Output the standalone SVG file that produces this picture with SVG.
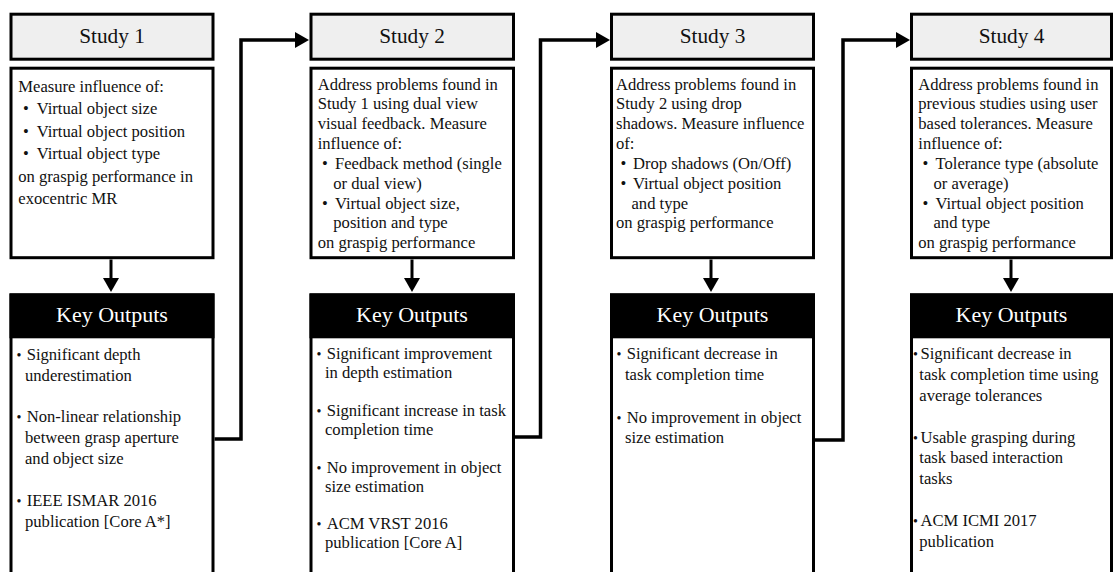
<svg xmlns="http://www.w3.org/2000/svg" width="1113" height="572" viewBox="0 0 1113 572">
  <style>
    text { font-family: "Liberation Serif", Tinos, "Nimbus Roman", "Nimbus Roman No9 L", FreeSerif, "Noto Serif", "DejaVu Serif", "Times New Roman", Times, serif; }
    .hdr { fill: #efefef; stroke: #000; stroke-width: 3; }
    .desc { fill: #fff; stroke: #000; stroke-width: 3; }
    .body { fill: #fff; stroke: #000; stroke-width: 3; }
    .band { fill: #000; }
    .title { font-size: 21.3px; text-anchor: middle; fill: #111; }
    .ko { font-size: 22px; text-anchor: middle; fill: #fff; }
    .t { font-size: 16.6px; fill: #111; }
    .b { font-size: 14px; fill: #111; }
    .link { fill: none; stroke: #000; stroke-width: 3.5; stroke-linejoin: miter; }
    .down { fill: none; stroke: #000; stroke-width: 3; }
  </style>
  <defs>
    <marker id="head" viewBox="0 0 14 16" markerUnits="userSpaceOnUse" markerWidth="14" markerHeight="16" refX="2" refY="8" orient="auto">
      <path d="M0,0 L14,8 L0,16 z" fill="#000"/>
    </marker>
  </defs>

  <!-- Study 1 -->
  <g id="study1">
    <rect class="hdr" x="11" y="14.2" width="202" height="45"/>
    <text class="title" x="112" y="42.5">Study 1</text>
    <rect class="desc" x="11" y="68.2" width="202" height="189.5"/>
    <text class="t" x="18.3" y="91.7">Measure influence of:</text>
    <text class="t" x="23" y="114">•</text><text class="t" x="36.7" y="114">Virtual object size</text>
    <text class="t" x="23" y="136.5">•</text><text class="t" x="36.7" y="136.5">Virtual object position</text>
    <text class="t" x="23" y="159">•</text><text class="t" x="36.7" y="159">Virtual object type</text>
    <text class="t" x="18.3" y="181.5">on graspig performance in</text>
    <text class="t" x="18.3" y="204">exocentric MR</text>
  </g>
  <g id="outputs1">
    <rect class="body" x="11" y="295" width="202" height="300"/>
    <rect class="band" x="9.5" y="293.3" width="205" height="45"/>
    <text class="ko" x="112" y="322">Key Outputs</text>
    <text class="b" x="16.5" y="360">•</text><text class="t" x="26.7" y="360">Significant depth</text>
    <text class="t" x="25" y="380.5">underestimation</text>
    <text class="b" x="16.5" y="421.7">•</text><text class="t" x="26.7" y="421.7">Non-linear relationship</text>
    <text class="t" x="25" y="442.5">between grasp aperture</text>
    <text class="t" x="25" y="463.5">and object size</text>
    <text class="b" x="16.5" y="505.5">•</text><text class="t" x="26.7" y="505.5">IEEE ISMAR 2016</text>
    <text class="t" x="25" y="526.5">publication [Core A*]</text>
  </g>

  <!-- Study 2 -->
  <g id="study2">
    <rect class="hdr" x="311" y="14.2" width="202.5" height="45"/>
    <text class="title" x="412" y="42.5">Study 2</text>
    <rect class="desc" x="311" y="68.2" width="202.5" height="189.5"/>
    <text class="t" x="317.7" y="89.5">Address problems found in</text>
    <text class="t" x="317.7" y="109.3">Study 1 using dual view</text>
    <text class="t" x="317.7" y="129.2">visual feedback. Measure</text>
    <text class="t" x="317.7" y="149">influence of:</text>
    <text class="t" x="322" y="169">•</text><text class="t" x="335" y="169">Feedback method (single</text>
    <text class="t" x="333.3" y="188.7">or dual view)</text>
    <text class="t" x="322" y="208.6">•</text><text class="t" x="335" y="208.6">Virtual object size,</text>
    <text class="t" x="333.3" y="228.4">position and type</text>
    <text class="t" x="317.7" y="248.3">on graspig performance</text>
  </g>
  <g id="outputs2">
    <rect class="body" x="311" y="295" width="202.5" height="300"/>
    <rect class="band" x="309.5" y="293.3" width="205.5" height="45"/>
    <text class="ko" x="412" y="322">Key Outputs</text>
    <text class="b" x="316.5" y="359.3">•</text><text class="t" x="326.7" y="359.3">Significant improvement</text>
    <text class="t" x="325" y="378.3">in depth estimation</text>
    <text class="b" x="316.5" y="416">•</text><text class="t" x="326.7" y="416">Significant increase in task</text>
    <text class="t" x="325" y="435">completion time</text>
    <text class="b" x="316.5" y="472.7">•</text><text class="t" x="326.7" y="472.7">No improvement in object</text>
    <text class="t" x="325" y="491.7">size estimation</text>
    <text class="b" x="316.5" y="529.3">•</text><text class="t" x="326.7" y="529.3">ACM VRST 2016</text>
    <text class="t" x="325" y="548.3">publication [Core A]</text>
  </g>

  <!-- Study 3 -->
  <g id="study3">
    <rect class="hdr" x="611.5" y="14.2" width="202" height="45"/>
    <text class="title" x="712.5" y="42.5">Study 3</text>
    <rect class="desc" x="611.5" y="68.2" width="202" height="189.5"/>
    <text class="t" x="616" y="89.5">Address problems found in</text>
    <text class="t" x="616" y="109.3">Study 2 using drop</text>
    <text class="t" x="616" y="129.2">shadows. Measure influence</text>
    <text class="t" x="616" y="149">of:</text>
    <text class="t" x="620.5" y="169">•</text><text class="t" x="633" y="169">Drop shadows (On/Off)</text>
    <text class="t" x="620.5" y="188.7">•</text><text class="t" x="633" y="188.7">Virtual object position</text>
    <text class="t" x="631.5" y="208.6">and type</text>
    <text class="t" x="616" y="228.4">on graspig performance</text>
  </g>
  <g id="outputs3">
    <rect class="body" x="611.5" y="295" width="202" height="300"/>
    <rect class="band" x="610" y="293.3" width="205" height="45"/>
    <text class="ko" x="712.5" y="322">Key Outputs</text>
    <text class="b" x="616.5" y="359.3">•</text><text class="t" x="626.7" y="359.3">Significant decrease in</text>
    <text class="t" x="625" y="380">task completion time</text>
    <text class="b" x="616.5" y="422.5">•</text><text class="t" x="626.7" y="422.5">No improvement in object</text>
    <text class="t" x="625" y="443.3">size estimation</text>
  </g>

  <!-- Study 4 -->
  <g id="study4">
    <rect class="hdr" x="911.5" y="14.2" width="200" height="45"/>
    <text class="title" x="1011.5" y="42.5">Study 4</text>
    <rect class="desc" x="911.5" y="68.2" width="200" height="189.5"/>
    <text class="t" x="918.3" y="89.5">Address problems found in</text>
    <text class="t" x="918.3" y="109.3">previous studies using user</text>
    <text class="t" x="918.3" y="129.2">based tolerances. Measure</text>
    <text class="t" x="918.3" y="149">influence of:</text>
    <text class="t" x="922.5" y="169">•</text><text class="t" x="935.5" y="169">Tolerance type (absolute</text>
    <text class="t" x="933.5" y="188.7">or average)</text>
    <text class="t" x="922.5" y="208.6">•</text><text class="t" x="935.5" y="208.6">Virtual object position</text>
    <text class="t" x="933.5" y="228.4">and type</text>
    <text class="t" x="918.3" y="248.3">on graspig performance</text>
  </g>
  <g id="outputs4">
    <rect class="body" x="911.5" y="295" width="200" height="300"/>
    <rect class="band" x="910" y="293.3" width="203" height="45"/>
    <text class="ko" x="1011.5" y="322">Key Outputs</text>
    <text class="b" x="913" y="359.3">•</text><text class="t" x="920.5" y="359.3">Significant decrease in</text>
    <text class="t" x="919.3" y="380">task completion time using</text>
    <text class="t" x="919.3" y="400.7">average tolerances</text>
    <text class="b" x="913" y="442.7">•</text><text class="t" x="920.5" y="442.7">Usable grasping during</text>
    <text class="t" x="919.3" y="463.3">task based interaction</text>
    <text class="t" x="919.3" y="484">tasks</text>
    <text class="b" x="913" y="526">•</text><text class="t" x="920.5" y="526">ACM ICMI 2017</text>
    <text class="t" x="919.3" y="546.7">publication</text>
  </g>

  <!-- connectors -->
  <g id="connectors">
    <path class="down" d="M111,259.5 V280" marker-end="url(#head)"/>
    <path class="down" d="M412,259.5 V280" marker-end="url(#head)"/>
    <path class="down" d="M711,259.5 V280" marker-end="url(#head)"/>
    <path class="down" d="M1011,259.5 V280" marker-end="url(#head)"/>
    <path class="link" d="M214.5,439 H241 V40 H297" marker-end="url(#head)"/>
    <path class="link" d="M515,437 H540.5 V40 H598" marker-end="url(#head)"/>
    <path class="link" d="M815,440 H843 V40 H898" marker-end="url(#head)"/>
  </g>
</svg>
